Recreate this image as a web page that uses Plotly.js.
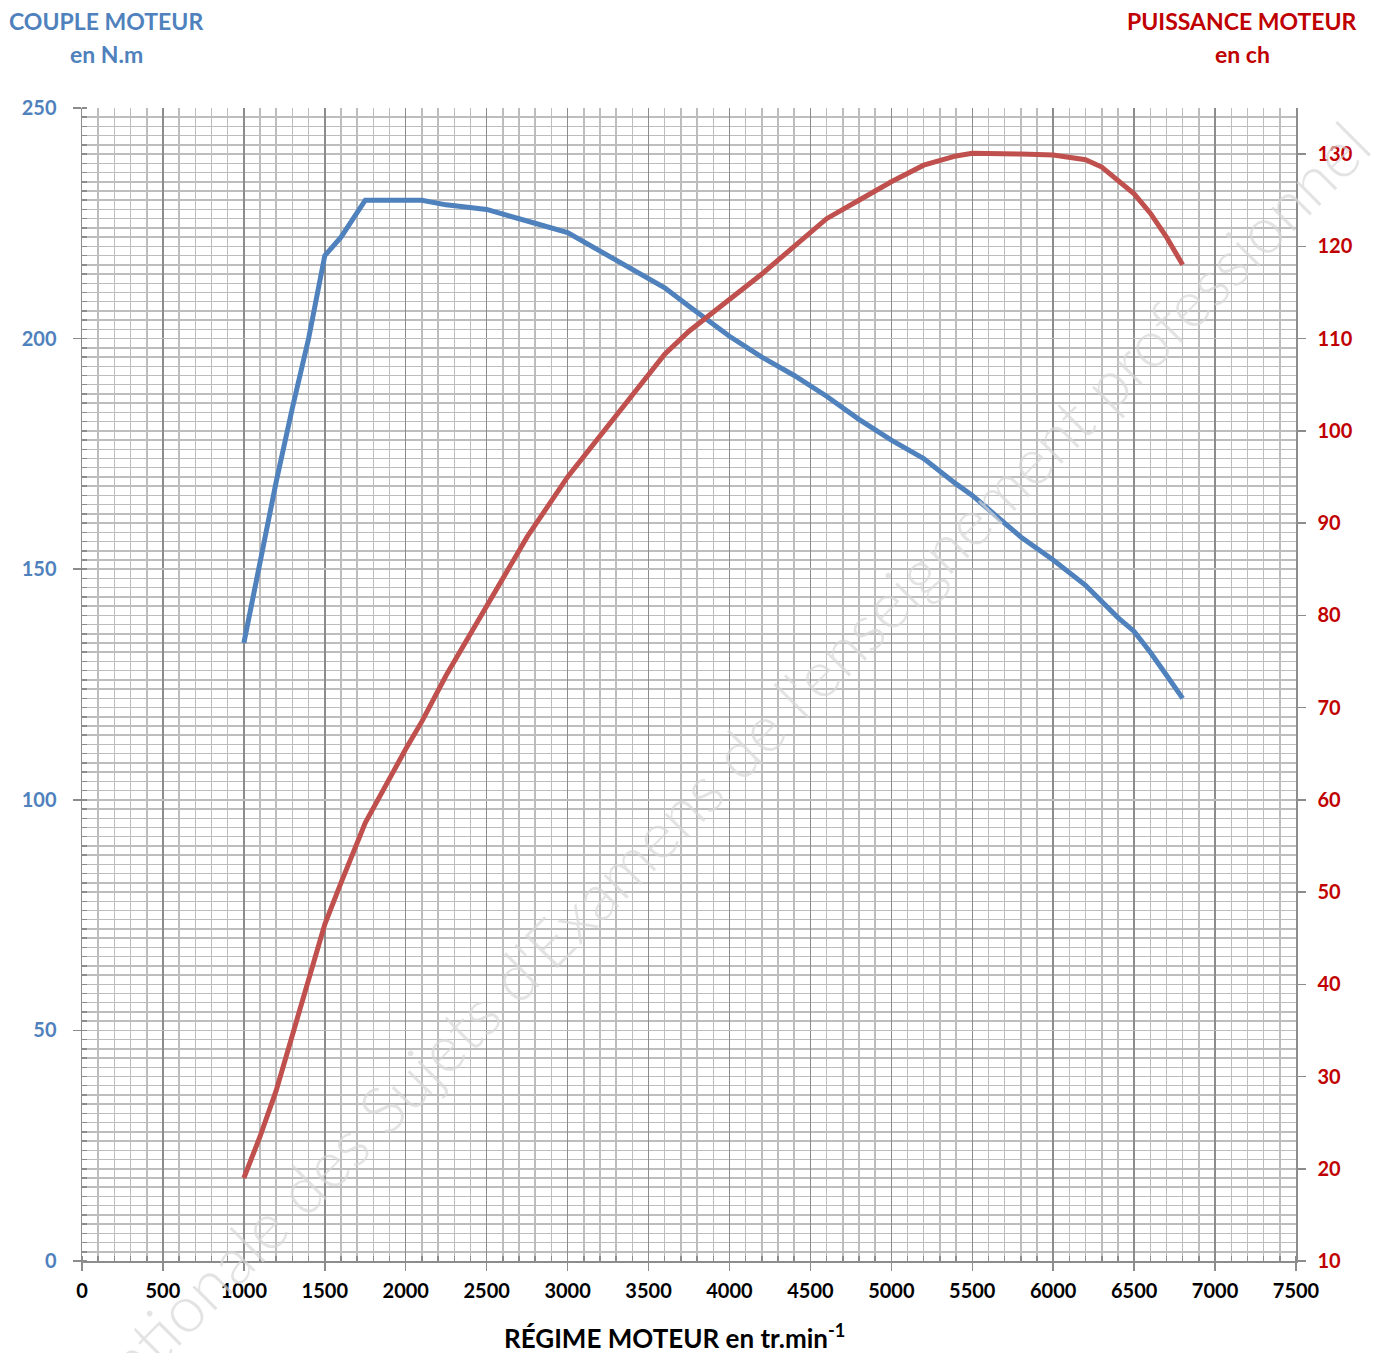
<!DOCTYPE html>
<html>
<head>
<meta charset="utf-8">
<script src="https://cdn.plot.ly/plotly-3.0.1.min.js"></script>
<style>html,body{margin:0;padding:0;background:#fff;}#chart{width:1374px;height:1353px;}</style>
</head>
<body>
<div id="chart"></div>
<script>
// Engine speed (tr/min)
var regime = [1000, 1100, 1200, 1300, 1400, 1500, 1600, 1750, 2000, 2100, 2250, 2500, 2750, 3000, 3250, 3500, 3600, 3750, 4000, 4200, 4400, 4600, 4800, 5000, 5200, 5400, 5500, 5600, 5800, 6000, 6200, 6300, 6400, 6500, 6600, 6700, 6800];
// Torque (N.m)
var couple = [134, 152, 169, 185, 200, 218, 222, 230, 230, 230, 229, 228, 225.5, 223, 218, 213, 211, 207, 200.5, 196, 192, 187.5, 182.5, 178, 174, 168.5, 166, 163, 157, 152, 146.5, 143, 139.5, 136.5, 132, 127, 122];
// Power (ch)
var puissance = [19, 23.5, 28.5, 34.5, 40.5, 46.5, 51, 57.5, 65.5, 68.5, 73.5, 81, 88.5, 95, 100.5, 106, 108.3, 110.8, 114.3, 117, 120, 123, 125, 127, 128.8, 129.8, 130.1, 130.1, 130, 129.9, 129.4, 128.6, 127.2, 125.7, 123.6, 121, 118];

var FONT = 'Lato, "Open Sans", sans-serif';
var BLUE = '#4F81BD', RED = '#C0504D', DRED = '#C00000';

var traces = [
  {x: regime, y: couple, type: 'scatter', mode: 'lines', name: 'Couple',
   line: {color: BLUE, width: 5}, yaxis: 'y'},
  {x: regime, y: puissance, type: 'scatter', mode: 'lines', name: 'Puissance',
   line: {color: RED, width: 5}, yaxis: 'y2'}
];

var layout = {
  width: 1374, height: 1353,
  margin: {l: 82, r: 78, t: 108, b: 92},
  paper_bgcolor: '#ffffff', plot_bgcolor: '#ffffff',
  showlegend: false,
  font: {family: FONT},
  xaxis: {
    range: [0, 7500], dtick: 500, tick0: 0,
    showgrid: true, gridcolor: '#8c8c8c', gridwidth: 1.5,
    zeroline: false, showline: true, linecolor: '#8c8c8c', linewidth: 1.5,
    ticks: 'outside', ticklen: 8, tickcolor: '#8c8c8c', tickwidth: 1.5,
    ticklabelstandoff: 3,
    tickfont: {family: FONT, size: 20, color: '#000000', weight: 'bold'},
    minor: {dtick: 100, showgrid: true, gridcolor: '#bdbdbd', gridwidth: 1.5,
            ticks: 'inside', ticklen: 5, tickcolor: '#8c8c8c', tickwidth: 1.5},
    fixedrange: true
  },
  yaxis: {
    range: [0, 250], dtick: 50, tick0: 0,
    showgrid: true, gridcolor: '#bdbdbd', gridwidth: 1.5,
    zeroline: false, showline: true, linecolor: '#8c8c8c', linewidth: 1.5,
    ticks: 'outside', ticklen: 8, tickcolor: '#8c8c8c', tickwidth: 1.5,
    ticklabelstandoff: 12,
    tickfont: {family: FONT, size: 20, color: BLUE, weight: 'bold'},
    minor: {dtick: 2, showgrid: true, gridcolor: '#bdbdbd', gridwidth: 1.5,
            ticks: 'inside', ticklen: 5, tickcolor: '#8c8c8c', tickwidth: 1.5},
    fixedrange: true
  },
  yaxis2: {
    range: [10, 135], dtick: 10, tick0: 10,
    overlaying: 'y', side: 'right',
    showgrid: false, zeroline: false,
    showline: true, linecolor: '#8c8c8c', linewidth: 1.5,
    ticks: 'outside', ticklen: 8, tickcolor: '#8c8c8c', tickwidth: 1.5,
    ticklabelstandoff: 8,
    tickfont: {family: FONT, size: 20, color: DRED, weight: 'bold'},
    fixedrange: true
  },
  annotations: [
    {text: 'Base Nationale des Sujets d\'Examens de l\'enseignement professionnel',
     xref: 'paper', yref: 'paper', x: (668 - 82) / 1214, y: (1261 - 822) / 1153, showarrow: false,
     textangle: -45, font: {family: FONT, size: 65, color: 'rgba(215,215,215,0.7)', weight: 300}},
    {text: 'COUPLE MOTEUR', xref: 'paper', yref: 'paper', x: (106 - 82) / 1214, y: 1 + (108 - 21) / 1153,
     xanchor: 'center', yanchor: 'middle', showarrow: false,
     font: {family: FONT, size: 23, color: BLUE, weight: 'bold'}},
    {text: 'en N.m', xref: 'paper', yref: 'paper', x: (106 - 82) / 1214, y: 1 + (108 - 54) / 1153,
     xanchor: 'center', yanchor: 'middle', showarrow: false,
     font: {family: FONT, size: 23, color: BLUE, weight: 'bold'}},
    {text: 'PUISSANCE MOTEUR', xref: 'paper', yref: 'paper', x: (1242 - 82) / 1214, y: 1 + (108 - 21) / 1153,
     xanchor: 'center', yanchor: 'middle', showarrow: false,
     font: {family: FONT, size: 23, color: DRED, weight: 'bold'}},
    {text: 'en ch', xref: 'paper', yref: 'paper', x: (1242 - 82) / 1214, y: 1 + (108 - 54) / 1153,
     xanchor: 'center', yanchor: 'middle', showarrow: false,
     font: {family: FONT, size: 23, color: DRED, weight: 'bold'}},
    {text: 'RÉGIME MOTEUR en tr.min<sup>-1</sup>', xref: 'paper', yref: 'paper',
     x: (674 - 82) / 1214, y: -(1336 - 1261) / 1153,
     xanchor: 'center', yanchor: 'middle', showarrow: false,
     font: {family: FONT, size: 26, color: '#000000', weight: 'bold'}}
  ]
};

Plotly.newPlot('chart', traces, layout, {displayModeBar: false, staticPlot: true});
</script>
</body>
</html>
